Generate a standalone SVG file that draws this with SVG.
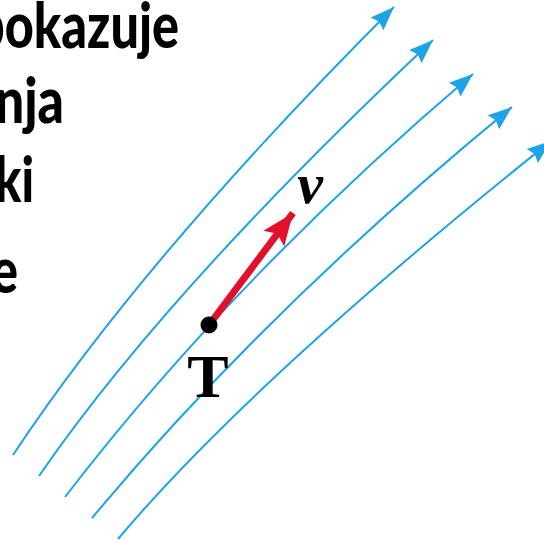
<svg xmlns="http://www.w3.org/2000/svg" width="544" height="542" viewBox="0 0 544 542">
  <defs>
    <style>
      .label { font-family: Lato, "Open Sans", "Liberation Sans", sans-serif; font-weight: 900; font-size: 62px; fill: #000; }
      .stream { fill: none; stroke: #1ea3e6; stroke-width: 2; }
      .serif { font-family: "Liberation Serif", "Times New Roman", serif; font-weight: bold; fill: #000; }
    </style>
    <marker id="blueHead" markerUnits="userSpaceOnUse" markerWidth="28" markerHeight="22" viewBox="0 -11 28 22" refX="24" refY="0" orient="auto">
      <path d="M0,-9 L24,0 L0,9 L3,0 z" fill="#1ea3e6"/>
    </marker>
    <marker id="redHead" markerUnits="userSpaceOnUse" markerWidth="34" markerHeight="30" viewBox="0 -15 34 30" refX="32" refY="0" orient="auto">
      <path d="M0,-13 L32,0 L0,13 L6,0 z" fill="#e3102c"/>
    </marker>
  </defs>
  <rect width="544" height="542" fill="#fff"/>

  <g id="slide-text">
    <text class="label" x="-24" y="48" textLength="203" lengthAdjust="spacingAndGlyphs">pokazuje</text>
    <text class="label" x="-5" y="123" textLength="69" lengthAdjust="spacingAndGlyphs">nja</text>
    <text class="label" x="-5" y="202" textLength="39" lengthAdjust="spacingAndGlyphs">ki</text>
    <text class="label" x="-9" y="293" textLength="27" lengthAdjust="spacingAndGlyphs">e</text>
  </g>

  <g id="connectors">
    <path class="stream" d="M13,455 Q145,256 394,7" marker-end="url(#blueHead)"/>
    <path class="stream" d="M39,476 Q167,290 433,40" marker-end="url(#blueHead)"/>
    <path class="stream" d="M65,497 Q234,277 473,74" marker-end="url(#blueHead)"/>
    <path class="stream" d="M92,518 Q267,308 512,107" marker-end="url(#blueHead)"/>
    <path class="stream" d="M118,539 Q252,380 551,141" marker-end="url(#blueHead)"/>
  </g>

  <g id="velocity">
    <line x1="209" y1="325" x2="293" y2="213" stroke="#e3102c" stroke-width="7" marker-end="url(#redHead)"/>
    <text class="serif" x="310" y="203" font-size="58" font-style="italic" text-anchor="middle">v</text>
  </g>

  <g id="point-T">
    <circle cx="209" cy="325" r="8.5" fill="#000"/>
    <text class="serif" x="208" y="397" font-size="62" text-anchor="middle">T</text>
  </g>
</svg>
